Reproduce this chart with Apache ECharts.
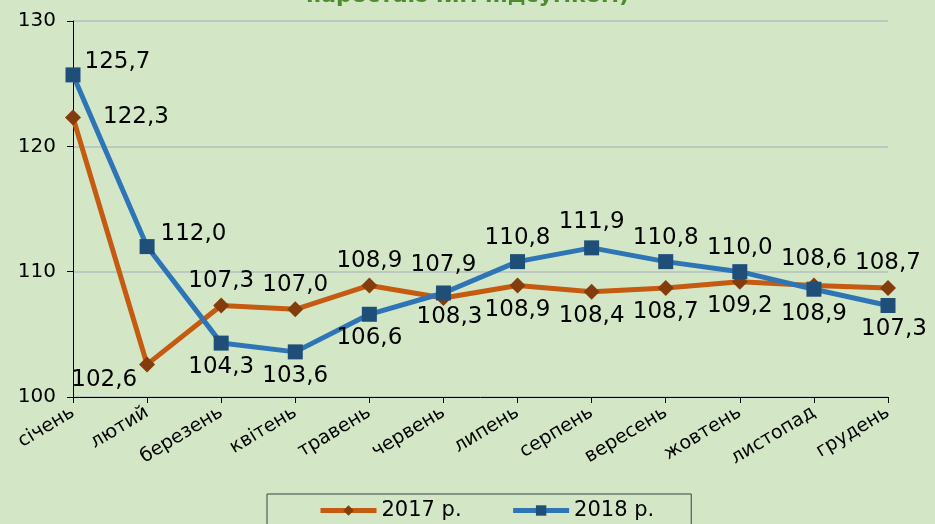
<!DOCTYPE html>
<html>
<head>
<meta charset="utf-8">
<script src="https://cdn.jsdelivr.net/npm/echarts@6/dist/echarts.min.js"></script>
<style>
  html, body { margin: 0; padding: 0; background: #d3e7c6; }
  #chart { width: 935px; height: 524px; }
</style>
</head>
<body>
<div id="chart"></div>
<script>
const months = ['січень', 'лютий', 'березень', 'квітень', 'травень', 'червень',
  'липень', 'серпень', 'вересень', 'жовтень', 'листопад', 'грудень']
const values2017 = [122.3, 102.6, 107.3, 107.0, 108.9, 107.9, 108.9, 108.4, 108.7, 109.2, 108.9, 108.7]
const values2018 = [125.7, 112.0, 104.3, 103.6, 106.6, 108.3, 110.8, 111.9, 110.8, 110.0, 108.6, 107.3]
const yTicks = [100, 110, 120, 130]

// де стоять підписи точок
const pos2017 = ['right', 'left', 'top', 'top', 'top', 'top', 'bottom', 'bottom', 'bottom', 'bottom', 'bottom', 'top']
const pos2018 = ['right', 'right', 'bottom', 'bottom', 'bottom', 'bottom', 'top', 'top', 'top', 'top', 'top', 'bottom']

const fmt = v => v.toFixed(1).replace('.', ',')

function labelFor(p, i, year) {
  const l = { position: p, distance: 5 }
  if (year === 2017) {
    if (i === 0) l.distance = 22
    if (i === 1) { l.distance = 2; l.offset = [0, 16] }
    if (i === 5) l.offset = [0, -8]
    if (i === 10) l.offset = [0, 4]
  } else {
    if (i === 0) { l.distance = 4; l.offset = [0, -13] }
    if (i === 1) { l.distance = 6; l.offset = [0, -13] }
    if (i === 5) l.offset = [6, 0]
    if (i === 7) l.offset = [0, -2]
    if (i === 10) l.offset = [0, -6]
    if (i === 11) l.offset = [6, 0]
  }
  return l
}

const chart = echarts.init(document.getElementById('chart'))

chart.setOption({
  backgroundColor: '#d3e7c6',
  textStyle: { fontFamily: 'DejaVu Sans' },
  title: {
    text: 'наростаючим підсумком)',
    left: 'center',
    top: -20,
    textStyle: { color: '#4e8a2e', fontSize: 22, fontWeight: 'bold', fontFamily: 'DejaVu Sans' }
  },
  grid: { left: 73, right: 47, top: 21, bottom: 127 },
  legend: {
    bottom: -15,
    left: 267,
    itemWidth: 56,
    itemHeight: 13,
    itemGap: 49,
    padding: [6, 37, 18, 51],
    borderColor: '#404040',
    borderWidth: 1,
    lineStyle: { width: 5 },
    textStyle: { fontSize: 21, color: '#000' },
    data: ['2017 р.', '2018 р.']
  },
  xAxis: {
    type: 'category',
    data: months,
    boundaryGap: false,
    axisLine: { lineStyle: { color: '#000', width: 1 } },
    axisTick: { show: true, alignWithLabel: true, length: 6, lineStyle: { color: '#000' } },
    axisLabel: {
      rotate: 31,
      interval: 0,
      margin: 14,
      fontSize: 19,
      color: '#000'
    }
  },
  yAxis: {
    type: 'value',
    min: yTicks[0],
    max: yTicks[yTicks.length - 1],
    interval: 10,
    axisLine: { show: true, lineStyle: { color: '#000', width: 1 } },
    axisTick: { show: true, length: 6, lineStyle: { color: '#000' } },
    axisLabel: { fontSize: 20, color: '#000', margin: 17 },
    splitLine: { lineStyle: { color: '#b3bfbf', width: 1.5 } }
  },
  series: [
    {
      name: '2017 р.',
      type: 'line',
      data: values2017.map((v, i) => ({ value: v, label: labelFor(pos2017[i], i, 2017) })),
      symbol: 'diamond',
      symbolSize: 16,
      lineStyle: { color: '#c55a11', width: 5 },
      itemStyle: { color: '#843c0c' },
      label: {
        show: true,
        fontSize: 23,
        color: '#000',
        formatter: p => fmt(p.value)
      },
      z: 2
    },
    {
      name: '2018 р.',
      type: 'line',
      data: values2018.map((v, i) => ({ value: v, label: labelFor(pos2018[i], i, 2018) })),
      symbol: 'rect',
      symbolSize: 15,
      lineStyle: { color: '#2e75b6', width: 5 },
      itemStyle: { color: '#1f4e79' },
      label: {
        show: true,
        fontSize: 23,
        color: '#000',
        formatter: p => fmt(p.value)
      },
      z: 3
    }
  ]
})
</script>
</body>
</html>
